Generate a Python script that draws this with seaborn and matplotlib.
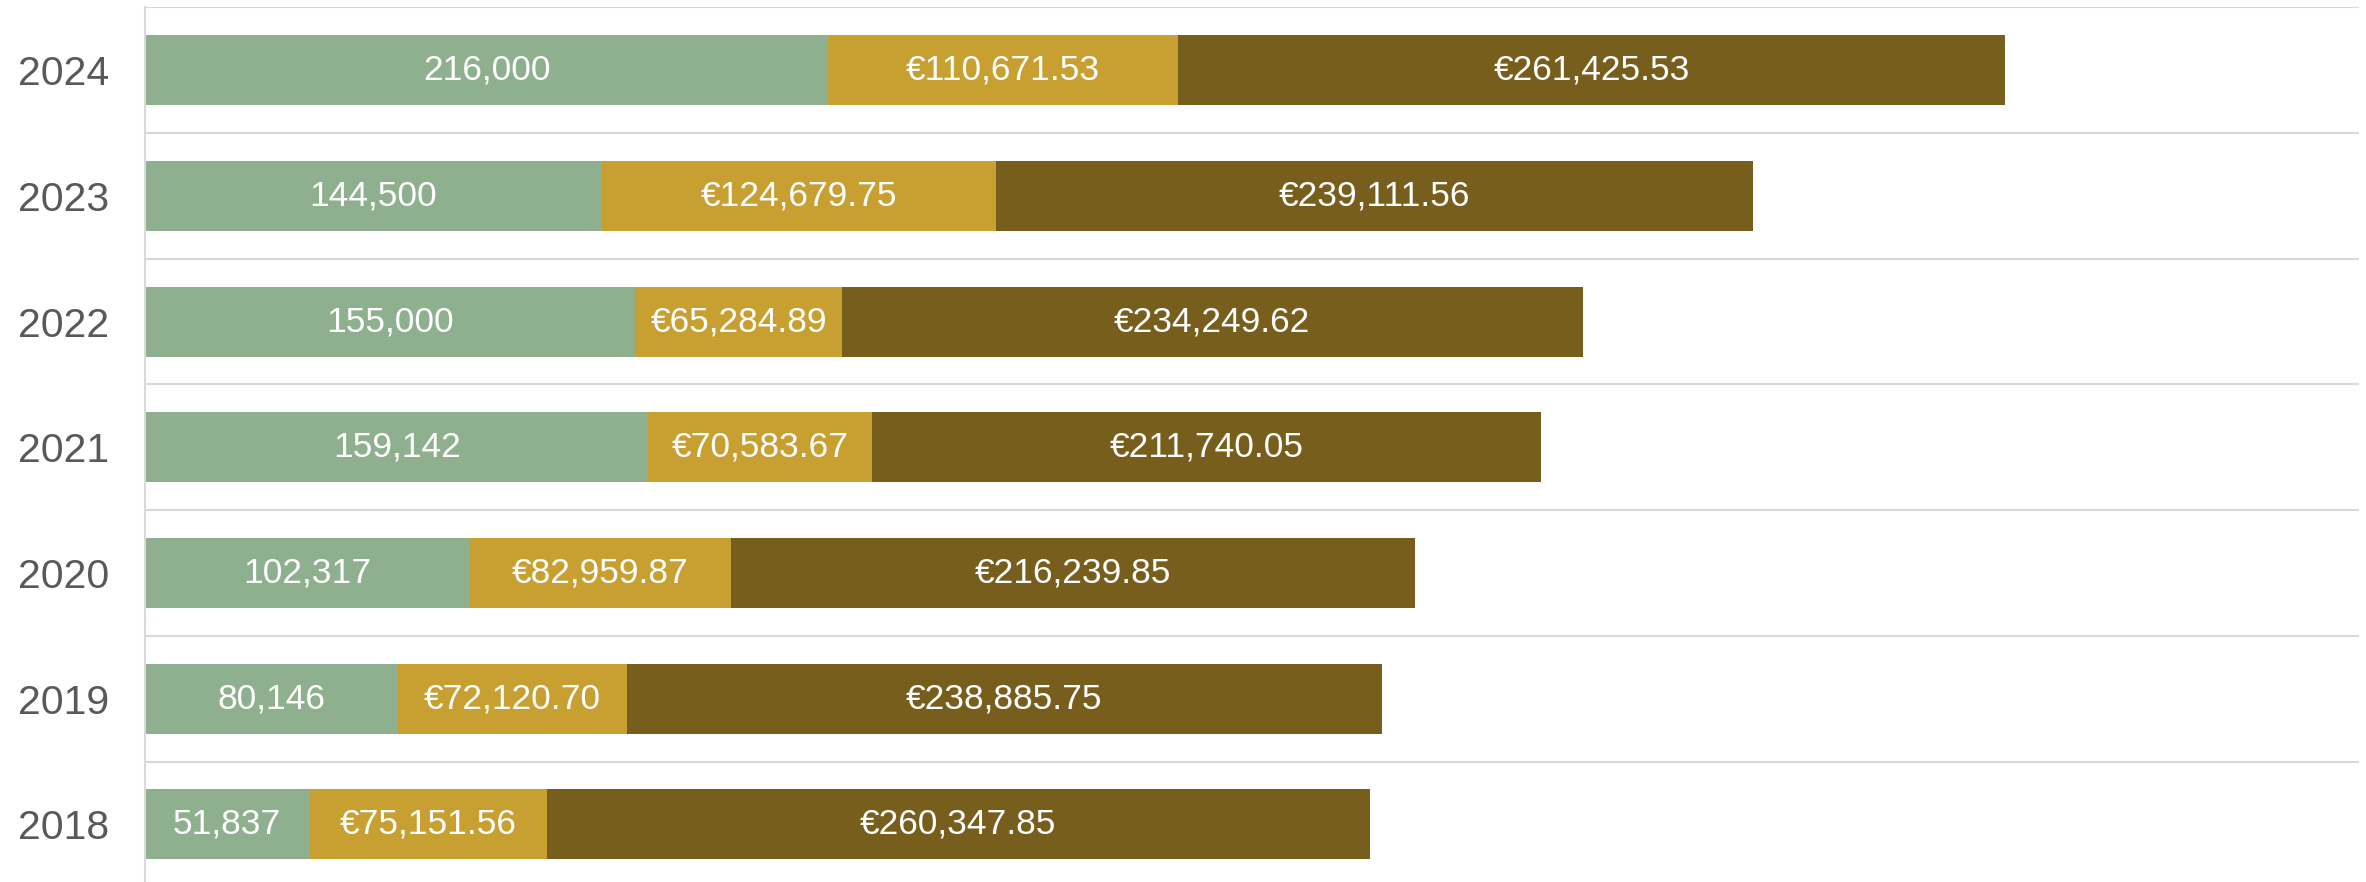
import pandas as pd
import matplotlib.pyplot as plt
import seaborn as sns

years = ["2018", "2019", "2020", "2021", "2022", "2023", "2024"]
units = [51837, 80146, 102317, 159142, 155000, 144500, 216000]
cost_a = [75151.56, 72120.70, 82959.87, 70583.67, 65284.89, 124679.75, 110671.53]
cost_b = [260347.85, 238885.75, 216239.85, 211740.05, 234249.62, 239111.56, 261425.53]

green = "#8FB08E"
gold = "#C89F31"
brown = "#785E1D"

df = pd.DataFrame({"year": years, "units": units, "cost_a": cost_a, "cost_b": cost_b})
df["s1"] = df["units"]
df["s2"] = df["s1"] + df["cost_a"]
df["s3"] = df["s2"] + df["cost_b"]

order = years[::-1]

sns.set_theme(style="white")
plt.rcParams["font.family"] = ["Liberation Sans", "DejaVu Sans"]

fig = plt.figure(figsize=(23.66, 8.82), dpi=100)
ax = fig.add_axes([145 / 2366, -5.3 / 882, (2359 - 145) / 2366, 880 / 882])

# layered cumulative bars -> stacked look
for col, c in [("s3", brown), ("s2", gold), ("s1", green)]:
    sns.barplot(data=df, x=col, y="year", order=order, color=c, width=0.556,
                saturation=1, linewidth=0, ax=ax)

ax.set_xlim(0, 700000)
ax.set_ylim(6.5, -0.5)

for b in [i - 0.5 for i in range(8)]:
    ax.axhline(b, color="#D9D9D9", lw=1.5, zorder=0)

fs = 25.5
for i, yr in enumerate(order):
    r = df[df["year"] == yr].iloc[0]
    ax.text(r["s1"] / 2, i, f"{r['units']:,.0f}", ha="center", va="center",
            color="white", fontsize=fs)
    ax.text(r["s1"] + r["cost_a"] / 2, i, f"€{r['cost_a']:,.2f}", ha="center",
            va="center", color="white", fontsize=fs)
    ax.text(r["s2"] + r["cost_b"] / 2, i, f"€{r['cost_b']:,.2f}", ha="center",
            va="center", color="white", fontsize=fs)

ax.set_xlabel("")
ax.set_ylabel("")
ax.set_xticks([])
ax.tick_params(axis="y", length=0, pad=26, labelsize=29.5, labelcolor="#595959")
for s in ["top", "right", "bottom"]:
    ax.spines[s].set_visible(False)
ax.spines["left"].set_color("#D9D9D9")
ax.spines["left"].set_linewidth(1.5)

fig.savefig("out.png", dpi=100)
